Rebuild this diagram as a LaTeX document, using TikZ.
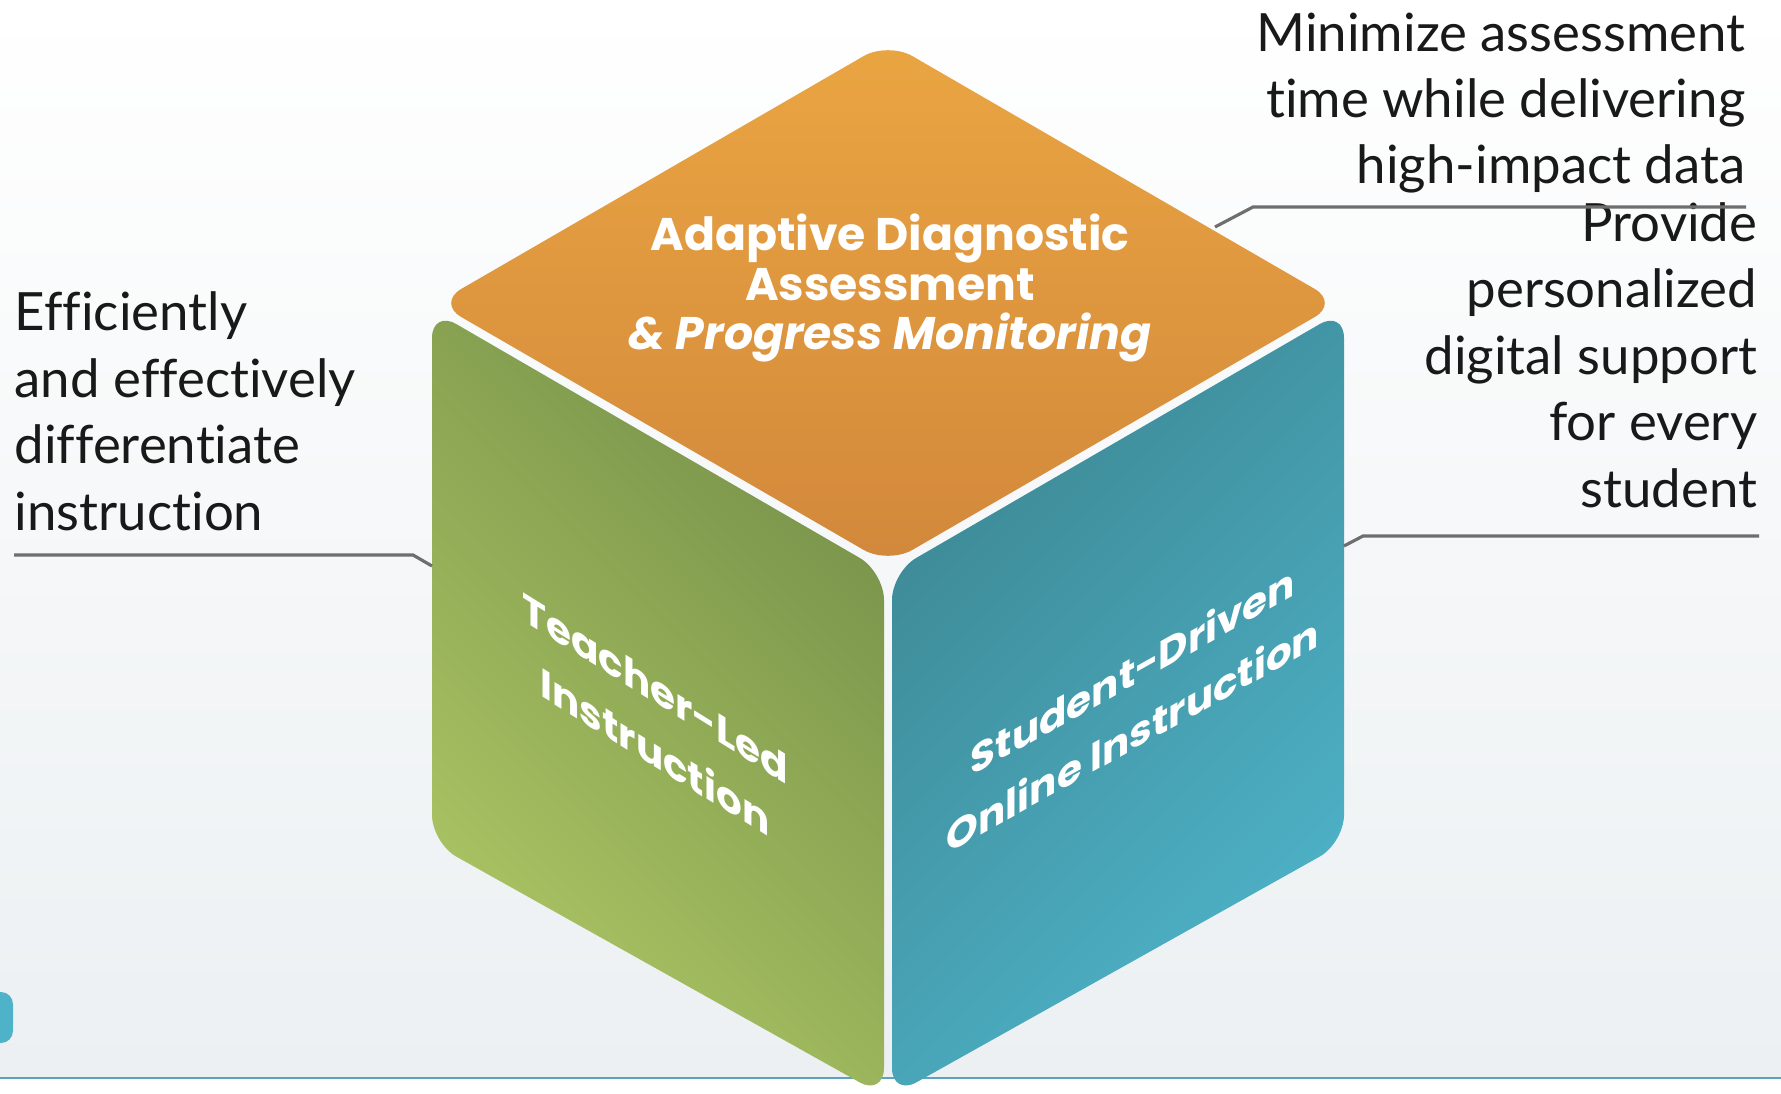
\documentclass[tikz,border=0pt]{standalone}
\usepackage{fontspec}
\setmainfont{Lato}[Ligatures=NoCommon]
\newfontfamily\facefont{Poppins}
\definecolor{orangetop}{HTML}{EAA542}
\definecolor{orangebot}{HTML}{D2883B}
\definecolor{greendark}{HTML}{77924A}
\definecolor{greenlight}{HTML}{ACC564}
\definecolor{tealdark}{HTML}{3D8894}
\definecolor{teallight}{HTML}{4EB3C9}
\definecolor{bgbot}{HTML}{ECF0F2}
\definecolor{leadgray}{HTML}{6E6E6E}
\definecolor{baseblue}{HTML}{5DA3BE}

\begin{document}
\begin{tikzpicture}[x=0.01cm, y=-0.01cm,
	face/.style={rounded corners=2.8mm},
	facetext/.style={text=white, align=center, inner sep=0pt},
	note/.style={inner sep=0pt, text=black!90, font=\fontsize{15}{18.9}\selectfont},
	leader/.style={draw=leadgray, line width=0.9pt}]
	% background
	\clip (0,0) rectangle (1781,1094);
	\shade[top color=white, bottom color=bgbot] (0,0) rectangle (1781,1078);
	\fill[white] (0,1078) rectangle (1781,1094);
	\draw[baseblue, line width=0.7pt] (0,1078) -- (1781,1078);
	\fill[teallight, rounded corners=1.2mm] (-20,992) rectangle (13,1043);
	% top face
	\shade[face, top color=orangetop, bottom color=orangebot]
		(437,303) -- (888,42) -- (1339,303) -- (888,564) -- cycle;
	% left face
	\shade[face, top color=greendark, bottom color=greenlight, shading angle=-45]
		(432,310) -- (884,572) -- (884,1096) -- (432,843) -- cycle;
	% right face
	\shade[face, top color=tealdark, bottom color=teallight, shading angle=45]
		(892,572) -- (1344,310) -- (1344,843) -- (892,1096) -- cycle;
	% face labels
	\node[facetext, font=\facefont\bfseries\fontsize{13}{14.2}\selectfont] (adapt) at (890,288)
		{Adaptive Diagnostic\\Assessment\\\itshape\& Progress Monitoring};
	\node[facetext, yslant=-0.62, font=\facefont\bfseries\fontsize{11.5}{18.2}\selectfont] (teach) at (655,720)
		{Teacher-Led\\Instruction};
	\node[facetext, yslant=0.56, font=\facefont\bfseries\fontsize{11.5}{18.2}\selectfont] (stud) at (1133,702)
		{Student-Driven\\Online Instruction};
	% notes
	\node[note, anchor=base west, align=left] (diff) at (14,530)
		{Efficiently\\and effectively\\differentiate\\instruction};
	\node[note, anchor=base east, align=right] (mini) at (1746,184)
		{Minimize assessment\\time while delivering\\high-impact data};
	\node[note, anchor=base east, align=right] (prov) at (1758,507)
		{Provide\\personalized\\digital support\\for every\\student};
	% leader lines
	\coordinate (diffend) at (14,555);
	\coordinate (greentip) at (432,566);
	\coordinate (miniend) at (1746,207);
	\coordinate (orangetip) at (1215,227);
	\coordinate (provend) at (1759,536);
	\coordinate (tealtip) at (1344,546);
	\draw[leader] (diffend) -- (413,555) -- (greentip);
	\draw[leader] (orangetip) -- (1253,207) -- (miniend);
	\draw[leader] (tealtip) -- (1363,536) -- (provend);
\end{tikzpicture}
\end{document}
